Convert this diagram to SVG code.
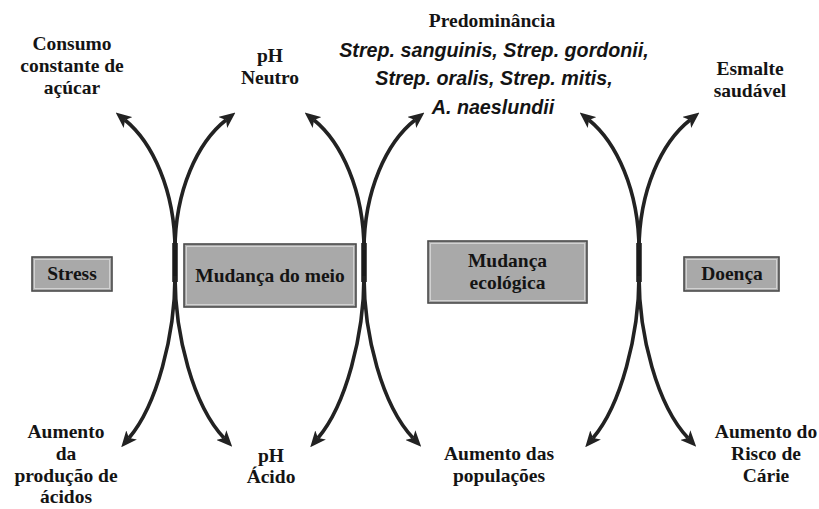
<svg xmlns="http://www.w3.org/2000/svg" xmlns:xlink="http://www.w3.org/1999/xlink" width="819" height="509" viewBox="0 0 819 509">
  <style>
    .lbl { font-family: "Liberation Serif", "Times New Roman", serif; font-weight: bold; font-size: 19.5px; fill: #141414; text-anchor: middle; }
    .sp { font-family: "Liberation Sans", Arial, sans-serif; font-weight: bold; font-style: italic; font-size: 19.7px; fill: #141414; text-anchor: middle; }
    .box { fill: #a9a9a9; stroke: #4a4a4a; stroke-width: 1.6; }
    .inner { fill: none; stroke: #d2d2d2; stroke-width: 1; }
    .arm { fill: none; stroke: #222; stroke-width: 3.6; }
    .stem { stroke: #1a1a1a; stroke-width: 5.5; }
  </style>
  <defs>
    <marker id="head" viewBox="0 0 16 14" markerWidth="16" markerHeight="14" refX="4" refY="7" orient="auto" markerUnits="userSpaceOnUse">
      <path d="M0,0 L16,7 L0,14 L4,7 Z" fill="#222"/>
    </marker>
    <!-- one double-headed crossing, centred on x = 0 -->
    <g id="cross">
      <line class="stem" x1="0" y1="243" x2="0" y2="282"/>
      <path class="arm" d="M0,250 C0,190 -23,142 -50,120" marker-end="url(#head)"/>
      <path class="arm" d="M0,250 C0,190 23,142 51,120" marker-end="url(#head)"/>
      <path class="arm" d="M0,276 C0,335 -18,405 -46,438" marker-end="url(#head)"/>
      <path class="arm" d="M0,276 C0,335 18,405 49,438" marker-end="url(#head)"/>
    </g>
  </defs>

  <rect width="819" height="509" fill="#ffffff"/>

  <g id="connectors">
    <use xlink:href="#cross" transform="translate(175,0)"/>
    <use xlink:href="#cross" transform="translate(364,0)"/>
    <use xlink:href="#cross" transform="translate(639,0)"/>
  </g>

  <g id="stress">
    <rect class="box" x="32" y="257" width="80" height="34"/>
    <rect class="inner" x="34.5" y="259.5" width="75" height="29"/>
    <text class="lbl" x="72" y="280">Stress</text>
  </g>
  <g id="mudanca-meio">
    <rect class="box" x="184" y="244" width="172" height="63"/>
    <rect class="inner" x="186.5" y="246.5" width="167" height="58"/>
    <text class="lbl" x="270" y="282">Mudança do meio</text>
  </g>
  <g id="mudanca-ecologica">
    <rect class="box" x="428" y="241" width="159" height="62"/>
    <rect class="inner" x="430.5" y="243.5" width="154" height="57"/>
    <text class="lbl" x="507.5" y="267">Mudança</text>
    <text class="lbl" x="507.5" y="289">ecológica</text>
  </g>
  <g id="doenca">
    <rect class="box" x="684" y="257" width="95" height="34"/>
    <rect class="inner" x="686.5" y="259.5" width="90" height="29"/>
    <text class="lbl" x="732" y="280">Doença</text>
  </g>

  <g id="consumo">
    <text class="lbl" x="72" y="50">Consumo</text>
    <text class="lbl" x="72" y="72">constante de</text>
    <text class="lbl" x="72" y="94">açúcar</text>
  </g>
  <g id="ph-neutro">
    <text class="lbl" x="270" y="62">pH</text>
    <text class="lbl" x="270" y="84">Neutro</text>
  </g>
  <g id="predominancia">
    <text class="lbl" x="492" y="27">Predominância</text>
    <text class="sp" x="494" y="57">Strep. sanguinis, Strep. gordonii,</text>
    <text class="sp" x="494" y="85">Strep. oralis, Strep. mitis,</text>
    <text class="sp" x="493" y="114">A. naeslundii</text>
  </g>
  <g id="esmalte">
    <text class="lbl" x="750" y="75">Esmalte</text>
    <text class="lbl" x="750" y="97">saudável</text>
  </g>

  <g id="aumento-acidos">
    <text class="lbl" x="66" y="438">Aumento</text>
    <text class="lbl" x="66" y="460">da</text>
    <text class="lbl" x="66" y="482">produção de</text>
    <text class="lbl" x="66" y="503">ácidos</text>
  </g>
  <g id="ph-acido">
    <text class="lbl" x="271" y="462">pH</text>
    <text class="lbl" x="271" y="483">Ácido</text>
  </g>
  <g id="aumento-populacoes">
    <text class="lbl" x="499" y="460">Aumento das</text>
    <text class="lbl" x="499" y="482">populações</text>
  </g>
  <g id="risco-carie">
    <text class="lbl" x="766" y="438">Aumento do</text>
    <text class="lbl" x="766" y="460">Risco de</text>
    <text class="lbl" x="766" y="482">Cárie</text>
  </g>
</svg>
